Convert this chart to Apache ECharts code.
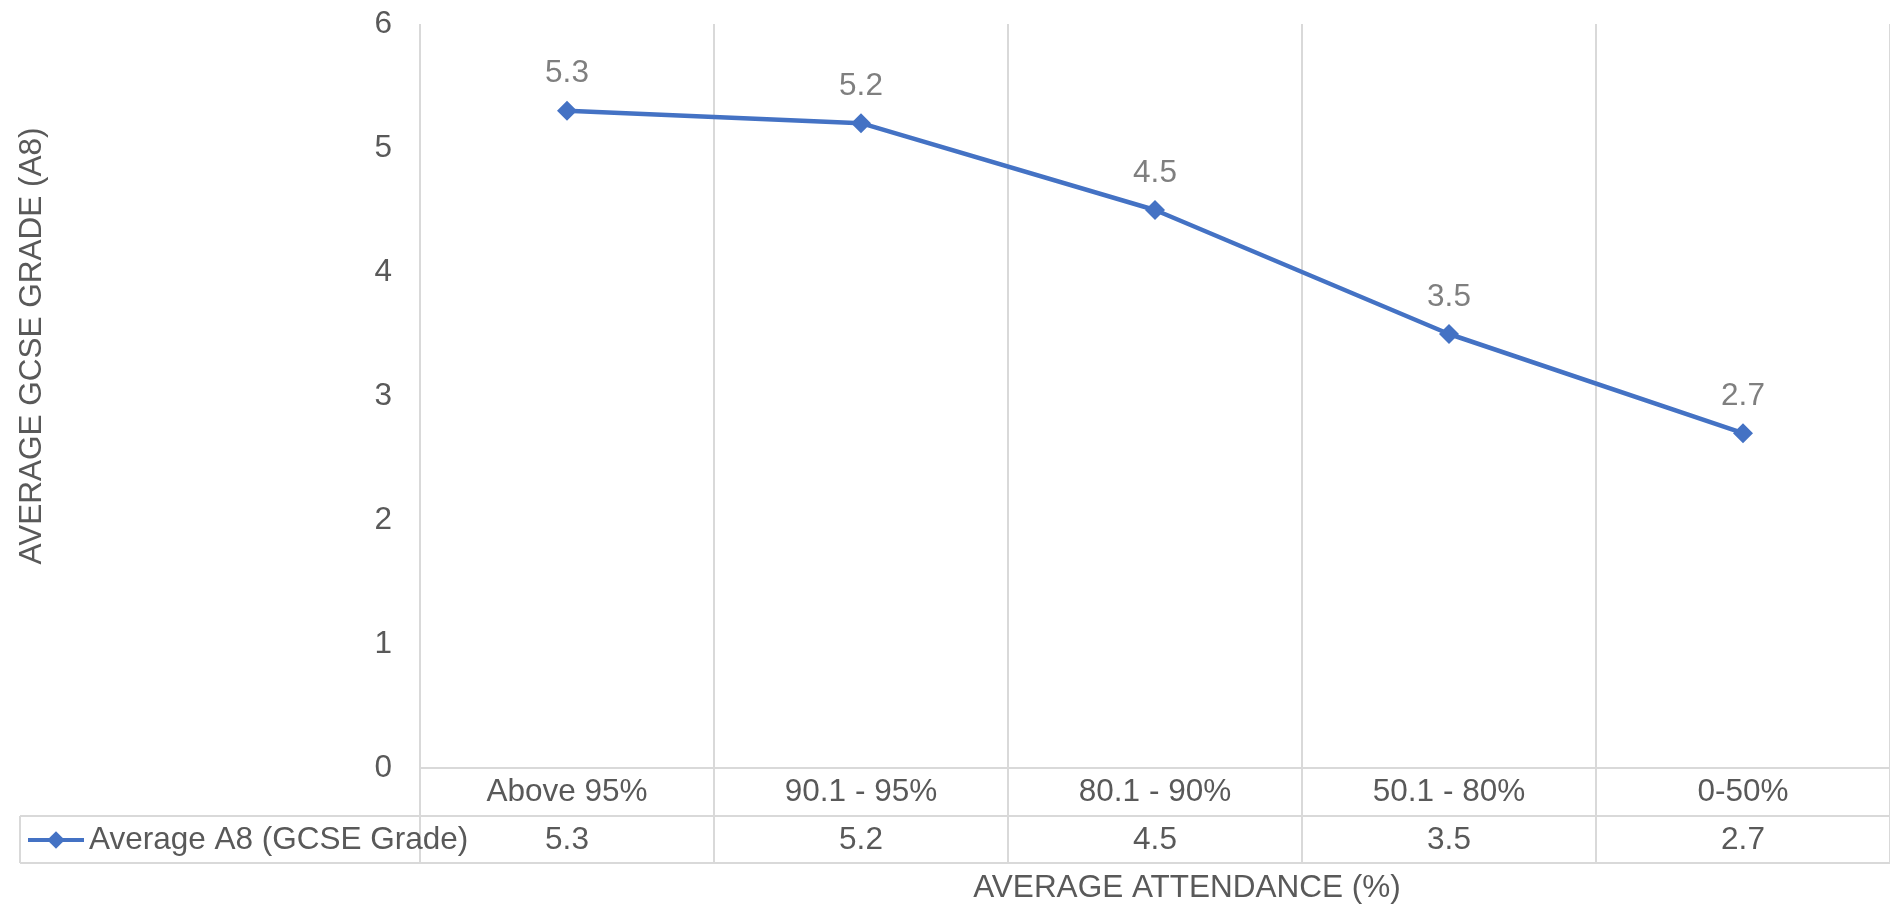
<!DOCTYPE html>
<html>
<head>
<meta charset="utf-8">
<script src="https://cdn.jsdelivr.net/npm/echarts@6/dist/echarts.min.js"></script>
<style>
html,body{margin:0;padding:0;background:#fff;}
#chart{width:1890px;height:904px;}
</style>
</head>
<body>
<div id="chart"></div>
<script>
const categories = ['Above 95%', '90.1 - 95%', '80.1 - 90%', '50.1 - 80%', '0-50%'];
const seriesName = 'Average A8 (GCSE Grade)';
const values = [5.3, 5.2, 4.5, 3.5, 2.7];
const yTicks = [0, 1, 2, 3, 4, 5, 6];
const yTitle = 'AVERAGE GCSE GRADE (A8)';
const xTitle = 'AVERAGE ATTENDANCE (%)';

const FONT = '"Liberation Sans", Arial, sans-serif';
const FS = 31.5;
const GRID_L = 420, GRID_T = 24, AXIS_Y = 768, ROW_H = 48, TABLE_B = 863, CELL_L = 20;
const LINE = '#d9d9d9';
const TXT = '#595959';
const BLUE = '#4472C4';

const chart = echarts.init(document.getElementById('chart'));
chart.setOption({
  animation: false,
  textStyle: { fontFamily: FONT },
  grid: { left: GRID_L, right: -2, top: GRID_T, bottom: 904 - AXIS_Y, containLabel: false },
  legend: {
    show: true,
    left: 26, top: 824, padding: 0,
    itemWidth: 56, itemHeight: 22, itemGap: 5,
    lineStyle: { width: 4 },
    textStyle: { color: TXT, fontSize: FS, fontFamily: FONT },
    data: [seriesName]
  },
  xAxis: [{
    type: 'category',
    data: categories,
    boundaryGap: true,
    axisLine: { show: true, lineStyle: { color: LINE, width: 2 } },
    axisTick: { show: true, length: TABLE_B - AXIS_Y, lineStyle: { color: LINE, width: 2 } },
    splitLine: { show: true, lineStyle: { color: LINE, width: 2 } },
    axisLabel: { color: TXT, fontSize: FS, fontFamily: FONT, margin: 24, verticalAlign: 'middle', interval: 0 }
  }, {
    type: 'category',
    data: categories,
    position: 'bottom',
    offset: ROW_H,
    boundaryGap: true,
    axisLine: { show: false },
    axisTick: { show: false },
    splitLine: { show: false },
    axisLabel: {
      color: TXT, fontSize: FS, fontFamily: FONT, margin: 24, verticalAlign: 'middle', interval: 0,
      formatter: (v, i) => String(values[i])
    }
  }],
  yAxis: {
    type: 'value',
    min: yTicks[0], max: yTicks[yTicks.length - 1], interval: 1,
    axisLine: { show: false },
    axisTick: { show: false },
    splitLine: { show: false },
    axisLabel: { color: TXT, fontSize: FS, fontFamily: FONT, margin: 28 }
  },
  series: [{
    name: seriesName,
    type: 'line',
    xAxisIndex: 0,
    data: values,
    symbol: 'diamond',
    symbolSize: 20,
    itemStyle: { color: BLUE },
    lineStyle: { color: BLUE, width: 4.5 },
    label: { show: true, position: 'top', distance: 11, color: '#7f7f7f', fontSize: FS, fontFamily: FONT }
  }],
  graphic: [
    { type: 'line', shape: { x1: CELL_L, y1: AXIS_Y + ROW_H, x2: 1890, y2: AXIS_Y + ROW_H }, style: { stroke: LINE, lineWidth: 2 } },
    { type: 'line', shape: { x1: CELL_L, y1: TABLE_B, x2: 1890, y2: TABLE_B }, style: { stroke: LINE, lineWidth: 2 } },
    { type: 'line', shape: { x1: CELL_L, y1: AXIS_Y + ROW_H, x2: CELL_L, y2: TABLE_B }, style: { stroke: LINE, lineWidth: 2 } },
    { type: 'text', x: 32, y: 346, rotation: Math.PI / 2,
      style: { text: yTitle, fill: TXT, font: FS + 'px ' + FONT, align: 'center', verticalAlign: 'middle' } },
    { type: 'text', x: 1187, y: 888,
      style: { text: xTitle, fill: TXT, font: FS + 'px ' + FONT, align: 'center', verticalAlign: 'middle' } }
  ]
});
</script>
</body>
</html>
